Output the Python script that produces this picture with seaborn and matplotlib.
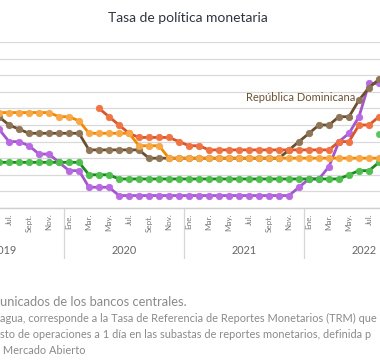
import pandas as pd
import matplotlib
matplotlib.use("Agg")
import matplotlib.pyplot as plt
import matplotlib.transforms as mtransforms
import seaborn as sns

# month index: 0 = Ene. 2019
meses = list(range(5, 44))          # Jun. 2019 .. Ago. 2022
meses_nic = list(range(15, 44))     # Abr. 2020 .. Ago. 2022

costa_rica = [4.75, 4.0, 4.0, 3.75, 3.25, 3.25, 2.75,
              2.25, 2.25, 1.25, 1.25, 1.25, 0.75, 0.75, 0.75, 0.75, 0.75, 0.75, 0.75,
              0.75, 0.75, 0.75, 0.75, 0.75, 0.75, 0.75, 0.75, 0.75, 0.75, 0.75, 1.25,
              1.75, 1.75, 2.5, 4.0, 4.5, 5.5, 7.5, 7.5]
rep_dominicana = [5.5, 5.0, 4.75, 4.5, 4.5, 4.5, 4.5,
                  4.5, 4.5, 3.5, 3.5, 3.5, 3.5, 3.5, 3.5, 3.0, 3.0, 3.0, 3.0,
                  3.0, 3.0, 3.0, 3.0, 3.0, 3.0, 3.0, 3.0, 3.0, 3.0, 3.5, 4.0,
                  4.5, 5.0, 5.0, 5.5, 5.5, 6.5, 7.25, 7.75]
nicaragua = [6.0, 5.5, 5.0, 4.5, 4.25, 4.25, 4.25, 4.25, 4.0,
             3.75, 3.75, 3.5, 3.5, 3.5, 3.5, 3.5, 3.5, 3.5, 3.5, 3.5, 3.5,
             3.5, 3.5, 3.5, 4.0, 4.0, 5.0, 5.0, 5.5]
guatemala = [2.75, 2.75, 2.75, 2.75, 2.75, 2.75, 2.75,
             2.75, 2.75, 2.0, 2.0, 2.0, 1.75, 1.75, 1.75, 1.75, 1.75, 1.75, 1.75,
             1.75, 1.75, 1.75, 1.75, 1.75, 1.75, 1.75, 1.75, 1.75, 1.75, 1.75, 1.75,
             1.75, 1.75, 1.75, 1.75, 2.0, 2.25, 2.25, 2.75]
honduras = [5.75, 5.75, 5.75, 5.75, 5.75, 5.75, 5.5,
            5.5, 5.25, 4.5, 4.5, 4.5, 4.5, 4.5, 3.75, 3.75, 3.75, 3.0, 3.0,
            3.0, 3.0, 3.0, 3.0, 3.0, 3.0, 3.0, 3.0, 3.0, 3.0, 3.0, 3.0,
            3.0, 3.0, 3.0, 3.0, 3.0, 3.0, 3.0, 3.0]
extra_mes = [43]
extra_valor = [4.45]

etiquetas_mes = ['Ene.', 'Mar.', 'May.', 'Jul.', 'Sept.', 'Nov.']
anios = ['2019', '2020', '2021', '2022']

series = [
    ('Costa Rica', meses, costa_rica, '#a457cc', '#b96ae3'),
    ('República Dominicana', meses, rep_dominicana, '#6b4f2c', '#8f7558'),
    ('Nicaragua', meses_nic, nicaragua, '#d9542b', '#f07443'),
    ('Guatemala', meses, guatemala, '#1b8c1b', '#4fbf4f'),
    ('Honduras', meses, honduras, '#f28a00', '#f8a847'),
]

sns.set_theme(style='white')
plt.rcParams['font.family'] = ['Lato', 'DejaVu Sans']

fig = plt.figure(figsize=(3.8, 3.6), dpi=100)
# chart is wider than the canvas: Jan-May 2019 and Sep-Dec 2022 fall outside
ax = fig.add_axes([-56 / 380, 152 / 360, 480 / 380, 166 / 360])

for nombre, x, y, col_linea, col_marca in series:
    df = pd.DataFrame({'mes': x, 'tasa': y})
    sns.lineplot(data=df, x='mes', y='tasa', ax=ax, color=col_linea, lw=2.0,
                 marker='o', markersize=4.6, markerfacecolor=col_marca,
                 markeredgecolor=col_marca, markeredgewidth=0.6, clip_on=False)

sns.scatterplot(x=extra_mes, y=extra_valor, ax=ax, color='#5cc45c', s=22,
                edgecolor='#5cc45c', clip_on=False)

ax.set_xlim(-0.5, 47.5)
ax.set_ylim(0, 10)
ax.set_yticks(range(0, 11))
ax.set_yticklabels([])
ax.yaxis.grid(True, color='#d9d9d9', lw=0.9)
ax.xaxis.grid(False)
ax.set_xlabel('')
ax.set_ylabel('')
for lado in ['top', 'left', 'right']:
    ax.spines[lado].set_visible(False)
ax.spines['bottom'].set_color('#cfcfcf')
ax.spines['bottom'].set_linewidth(1.0)

# only the months that fall inside the canvas
ticks = list(range(6, 43, 2))
ax.set_xticks(ticks)
ax.set_xticklabels([etiquetas_mes[(m % 12) // 2] for m in ticks], rotation=90,
                   fontsize=5.8, color='#777777')
ax.tick_params(axis='x', length=0, pad=4)
ax.tick_params(axis='y', length=0)

trans = mtransforms.blended_transform_factory(ax.transData, ax.transAxes)
for i, anio in enumerate(anios):
    ax.text(12 * i + 5.5, -43 / 166, anio, transform=trans, ha='center', va='center',
            fontsize=7.8, color='#666666')
for corte in [11.5, 23.5, 35.5]:
    ax.axvline(corte, ymin=-50 / 166, ymax=0, color='#d6d6d6', lw=0.9, clip_on=False)

ax.text(40.6, 6.63, 'República Dominicana', ha='right', va='center',
        fontsize=8, color='#6b5232')

fig.text(188 / 380, 1 - 18 / 360, 'Tasa de política monetaria', ha='center', va='center',
         fontsize=10, color='#2e3440')

notas = [
    ('unicados de los bancos centrales.', 302, 9.3),
    ('agua, corresponde a la Tasa de Referencia de Reportes Monetarios (TRM) que', 318, 7.9),
    ('sto de operaciones a 1 día en las subastas de reportes monetarios, definida p', 334, 7.9),
    (' Mercado Abierto', 350, 7.9),
]
for texto, y_px, tam in notas:
    fig.text(0, 1 - y_px / 360, texto, ha='left', va='center', fontsize=tam, color='#8a8a8a')

fig.savefig('out.png', dpi=100)
